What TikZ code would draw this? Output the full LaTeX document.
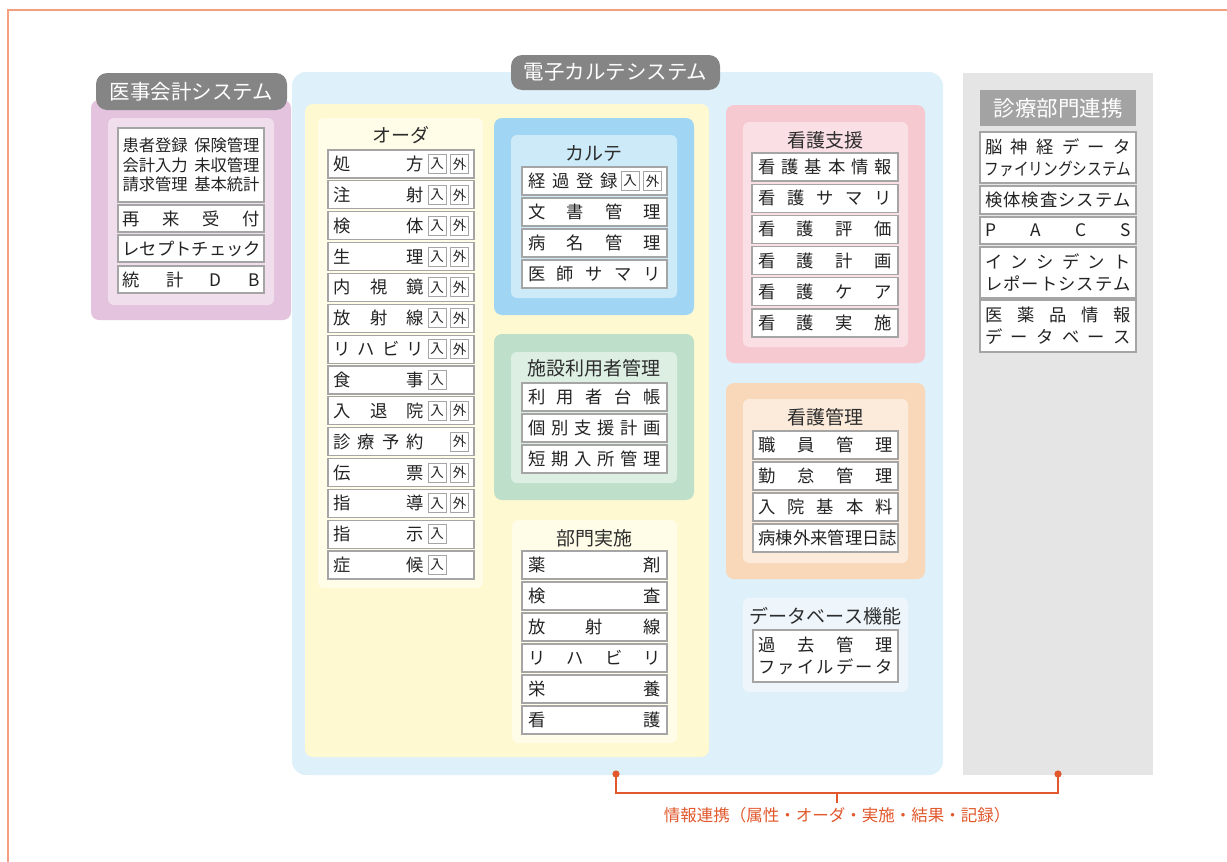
\documentclass[tikz,border=0pt]{standalone}
\usepackage{fontspec}
\setmainfont{Noto Sans CJK JP}
\usepackage{graphicx}
\definecolor{frameC}{RGB}{244,160,128}
\definecolor{brC}{RGB}{224,88,44}
\definecolor{tabGray}{RGB}{133,133,133}
\definecolor{tabGrayB}{RGB}{163,163,163}
\definecolor{pinkO}{RGB}{227,195,221}
\definecolor{pinkI}{RGB}{240,222,236}
\definecolor{blueBg}{RGB}{222,240,250}
\definecolor{yellowBg}{RGB}{255,249,209}
\definecolor{cream}{RGB}{255,252,232}
\definecolor{karteO}{RGB}{160,214,244}
\definecolor{karteI}{RGB}{205,234,248}
\definecolor{greenO}{RGB}{190,224,202}
\definecolor{greenI}{RGB}{221,239,227}
\definecolor{nPinkO}{RGB}{246,200,207}
\definecolor{nPinkI}{RGB}{250,223,228}
\definecolor{nOrO}{RGB}{249,216,185}
\definecolor{nOrI}{RGB}{252,235,218}
\definecolor{dbBox}{RGB}{238,246,252}
\definecolor{grayCol}{RGB}{229,229,229}
\definecolor{borderGray}{RGB}{165,165,165}
\definecolor{textC}{RGB}{35,35,35}
\definecolor{titleC}{RGB}{45,45,45}

\ExplSyntaxOn
\cs_generate_variant:Nn \seq_set_split:Nnn {NnV}
\NewDocumentCommand\spread{mm}
 {
  \tl_set:Nx \l_tmpa_tl {#2}
  \seq_set_split:NnV \l_tmpa_seq {} \l_tmpa_tl
  \makebox[#1][s]{\seq_use:Nn \l_tmpa_seq {\hfill}}
 }
\ExplSyntaxOff

\newcommand\rbox[7]{\node[#1,minimum width={(#5)-(#3)},minimum height={(#6)-(#4)}] (#2) at ({((#3)+(#5))/2},{((#4)+(#6))/2}) {#7};}

\tikzset{
 grp/.style={inner sep=0pt,outer sep=0pt,rounded corners=8pt},
 tabbox/.style={fill=tabGray,text=white,inner sep=0pt,outer sep=0pt,rounded corners=11pt,font=\fontsize{20.5}{20}\selectfont},
 ebox/.style={draw=borderGray,line width=1.2pt,fill=white,inner sep=0pt,outer sep=0pt,text=textC,font=\fontsize{17.3}{22}\selectfont,align=center},
 etxt/.style={inner sep=0pt,text=textC,font=\fontsize{17.3}{22}\selectfont},
 tag/.style={draw=borderGray,line width=0.9pt,fill=white,inner sep=0pt,minimum width=18pt,minimum height=19pt,text=textC,font=\fontsize{13.5}{13}\selectfont},
 ttl/.style={inner sep=0pt,text=titleC,font=\fontsize{19}{20}\selectfont},
 frame/.style={draw=frameC,line width=2pt},
 brline/.style={draw=brC,line width=1.8pt},
}

\begin{document}
\begin{tikzpicture}[x=1pt,y=-1pt]
\useasboundingbox (0,0) rectangle (1227,862);
\draw[frame] (8,862) -- (8,10) -- (1227,10);

% ---------- 医事会計システム ----------
\rbox{grp,fill=pinkO}{ijiO}{91}{100}{291}{320}{}
\rbox{tabbox}{ijiTab}{96}{73}{287}{110}{医事会計システム}
\rbox{grp,fill=pinkI,rounded corners=6pt}{ijiI}{108}{118}{274}{305}{}
\rbox{ebox,font=\fontsize{16.3}{19.5}\selectfont}{ij0}{118}{128}{264}{202}{\makebox[137pt][s]{患者登録\hfill 保険管理}\\\makebox[137pt][s]{会計入力\hfill 未収管理}\\\makebox[137pt][s]{請求管理\hfill 基本統計}}
\rbox{ebox}{ij1}{118}{205}{264}{232}{\spread{137pt}{再来受付}}
\rbox{ebox}{ij2}{118}{235}{264}{262}{\spread{137pt}{レセプトチェック}}
\rbox{ebox}{ij3}{118}{266}{264}{293}{\spread{137pt}{統計DB}}

% ---------- 電子カルテシステム ----------
\rbox{grp,fill=blueBg,rounded corners=14pt}{emrO}{292}{72}{943}{775}{}
\rbox{tabbox}{emrTab}{511}{55}{720}{90}{電子カルテシステム}
\rbox{grp,fill=yellowBg}{emrY}{305}{104}{709}{757}{}

% オーダ
\rbox{grp,fill=cream,rounded corners=6pt}{ordI}{318}{118}{483}{588}{}
\node[ttl] (ordT) at (400.5,135) {オーダ};
\foreach \txt/\tA/\tB [count=\i from 0] in {処方/1/1,注射/1/1,検体/1/1,生理/1/1,内視鏡/1/1,放射線/1/1,リハビリ/1/1,食事/1/0,入退院/1/1,診療予約/0/1,伝票/1/1,指導/1/1,指示/1/0,症候/1/0}{
  \pgfmathsetmacro\yt{150+30.85*\i}
  \pgfmathsetmacro\yb{\yt+28}
  \pgfmathsetmacro\yc{\yt+14}
  \rbox{ebox}{o\i}{328}{\yt}{474}{\yb}{}
  \node[etxt,anchor=west] (ot\i) at (333,\yc) {\spread{91pt}{\txt}};
  \ifnum\tA=1 \node[tag] (oi\i) at (437,\yc) {入};\fi
  \ifnum\tB=1 \node[tag] (oo\i) at (459.5,\yc) {外};\fi
}

% カルテ
\rbox{grp,fill=karteO}{karO}{494}{118}{694}{315}{}
\rbox{grp,fill=karteI,rounded corners=6pt}{karI}{511}{135}{677}{298}{}
\node[ttl] (karT) at (594,153) {カルテ};
\rbox{ebox}{k0}{522}{167}{667}{195}{}
\node[etxt,anchor=west] (kt0) at (528,181) {\spread{90pt}{経過登録}};
\node[tag] (ki0) at (630,181) {入};
\node[tag] (ko0) at (652.5,181) {外};
\foreach \txt [count=\i] in {文書管理,病名管理,医師サマリ}{
  \pgfmathsetmacro\yt{167+31*\i}
  \pgfmathsetmacro\yb{\yt+28}
  \rbox{ebox}{k\i}{522}{\yt}{667}{\yb}{\spread{133pt}{\txt}}
}

% 施設利用者管理
\rbox{grp,fill=greenO}{facO}{494}{334}{694}{500}{}
\rbox{grp,fill=greenI,rounded corners=6pt}{facI}{511}{352}{677}{483}{}
\node[ttl] (facT) at (594,368) {施設利用者管理};
\foreach \txt [count=\i from 0] in {利用者台帳,個別支援計画,短期入所管理}{
  \pgfmathsetmacro\yt{383+31*\i}
  \pgfmathsetmacro\yb{\yt+28}
  \rbox{ebox}{f\i}{522}{\yt}{667}{\yb}{\spread{133pt}{\txt}}
}

% 部門実施
\rbox{grp,fill=cream,rounded corners=6pt}{depI}{512}{520}{677}{743}{}
\node[ttl] (depT) at (594,538) {部門実施};
\foreach \txt [count=\i from 0] in {薬剤,検査,放射線,リハビリ,栄養,看護}{
  \pgfmathsetmacro\yt{551+31*\i}
  \pgfmathsetmacro\yb{\yt+28}
  \rbox{ebox}{d\i}{522}{\yt}{667}{\yb}{\spread{133pt}{\txt}}
}

% 看護支援
\rbox{grp,fill=nPinkO}{nsO}{726}{105}{925}{363}{}
\rbox{grp,fill=nPinkI,rounded corners=6pt}{nsI}{743}{122}{908}{347}{}
\node[ttl] (nsT) at (825.5,140) {看護支援};
\foreach \txt [count=\i from 0] in {看護基本情報,看護サマリ,看護評価,看護計画,看護ケア,看護実施}{
  \pgfmathsetmacro\yt{153+31.2*\i}
  \pgfmathsetmacro\yb{\yt+28}
  \rbox{ebox}{n\i}{752}{\yt}{898}{\yb}{\spread{134pt}{\txt}}
}

% 看護管理
\rbox{grp,fill=nOrO}{nmO}{726}{383}{925}{579}{}
\rbox{grp,fill=nOrI,rounded corners=6pt}{nmI}{743}{399}{908}{563}{}
\node[ttl] (nmT) at (825.5,417) {看護管理};
\foreach \txt [count=\i from 0] in {職員管理,勤怠管理,入院基本料,病棟外来管理日誌}{
  \pgfmathsetmacro\yt{431+31*\i}
  \pgfmathsetmacro\yb{\yt+28}
  \rbox{ebox}{m\i}{753}{\yt}{898}{\yb}{\spread{134pt}{\txt}}
}

% データベース機能
\rbox{grp,fill=dbBox,rounded corners=6pt}{dbI}{743}{598}{908}{692}{}
\node[ttl] (dbT) at (825.5,616) {データベース機能};
\rbox{ebox}{db0}{753}{630}{898}{682}{\spread{134pt}{過去管理}\\\spread{134pt}{ファイルデータ}}

% ---------- 診療部門連携 ----------
\rbox{inner sep=0pt,outer sep=0pt,fill=grayCol}{linkO}{963}{73}{1153}{775}{}
\rbox{tabbox,fill=tabGrayB,rounded corners=0pt,font=\fontsize{21.5}{22}\selectfont}{linkTab}{980}{90}{1136}{126}{診療部門連携}
\rbox{ebox}{l0}{980}{132}{1136}{183}{\spread{146pt}{脳神経データ}\\\scalebox{0.85}[1]{ファイリングシステム}}
\rbox{ebox}{l1}{980}{186}{1136}{214}{\spread{146pt}{検体検査システム}}
\rbox{ebox}{l2}{980}{217}{1136}{244}{\spread{146pt}{PACS}}
\rbox{ebox}{l3}{980}{247}{1136}{298}{\spread{146pt}{インシデント}\\\spread{146pt}{レポートシステム}}
\rbox{ebox}{l4}{980}{300}{1136}{352}{\spread{146pt}{医薬品情報}\\\spread{146pt}{データベース}}

% ---------- 情報連携 ----------
\coordinate (dL) at (616,774);
\coordinate (dR) at (1058,774);
\coordinate (tickA) at (837,793);
\coordinate (tickB) at (837,803);
\draw[brline] (dL) -- ++(0,19) -| (dR);
\draw[brline] (tickA) -- (tickB);
\fill[brC] (dL) circle[radius=3.6pt];
\fill[brC] (dR) circle[radius=3.6pt];
\node[inner sep=0pt,text=brC,font=\fontsize{16.5}{17}\selectfont] (lbl) at (837,815) {情報連携（属性・オーダ・実施・結果・記録）};
\end{tikzpicture}
\end{document}
